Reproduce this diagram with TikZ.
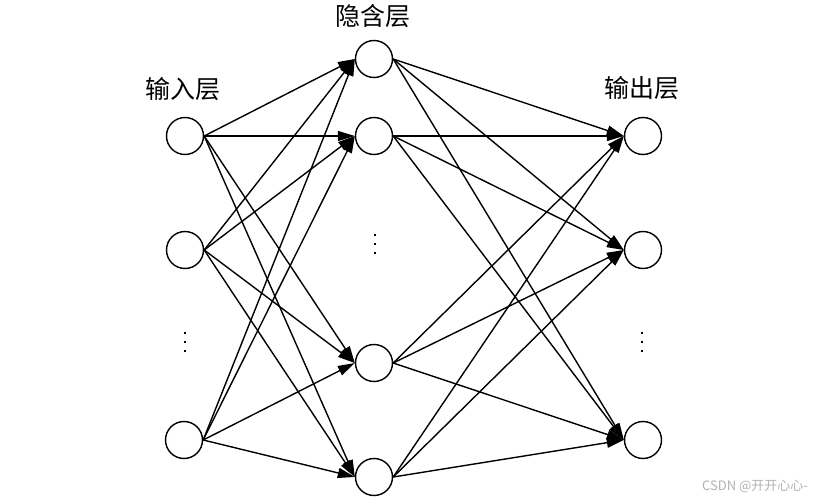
\documentclass[tikz,border=0pt]{standalone}
\usepackage{fontspec}
\newfontfamily\cjk{Noto Sans CJK SC}
\newfontfamily\cjklight{Noto Sans CJK SC Light}
\usetikzlibrary{arrows.meta}
\begin{document}
\begin{tikzpicture}[x=1pt,y=-1pt,
  neuron/.style={circle,draw,line width=1.4pt,minimum size=37pt,inner sep=0pt},
  conn/.style={line width=1.4pt,-{Triangle[length=17pt,width=10pt]}},
  lab/.style={font=\cjk\fontsize{25}{29}\selectfont},
  vdot/.style={fill,inner sep=0pt,minimum size=2.6pt}]
\useasboundingbox (0,0) rectangle (828,500);
% input
\node[neuron] (i1) at (185,136) {};
\node[neuron] (i2) at (185,250) {};
\node[neuron] (i3) at (184,440) {};
% hidden
\node[neuron] (h1) at (374,59) {};
\node[neuron] (h2) at (374,136) {};
\node[neuron] (h3) at (374,363) {};
\node[neuron] (h4) at (374,477) {};
% output
\node[neuron] (o1) at (643,136) {};
\node[neuron] (o2) at (643,250) {};
\node[neuron] (o3) at (643,440) {};
% labels
\node[lab] (li) at (183,89) {输入层};
\node[lab] (lh) at (373,16) {隐含层};
\node[lab] (lo) at (642,88) {输出层};
% dots
\foreach \n/\x/\y in {a/185/333,b/375/235,c/642/333}{
  \node[vdot] (\n1) at (\x,\y) {};
  \node[vdot] (\n2) at (\x,\y+9) {};
  \node[vdot] (\n3) at (\x,\y+18) {};
}
% connections
\foreach \s in {i1,i2,i3}{
  \foreach \t in {h1,h2,h3,h4}{
    \draw[conn] (\s.east) -- (\t.west);
  }
}
\foreach \s in {h1,h2,h3,h4}{
  \foreach \t in {o1,o2,o3}{
    \draw[conn] (\s.east) -- (\t.west);
  }
}
% watermark
\node[font=\cjk\fontsize{13}{15}\selectfont,text=black!30] (wm) at (755,486) {CSDN @开开心心-};
\end{tikzpicture}
\end{document}
